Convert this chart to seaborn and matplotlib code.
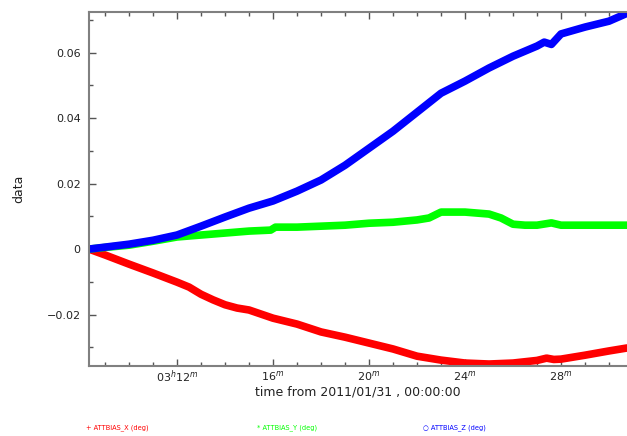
import numpy as np
import pandas as pd
import matplotlib
matplotlib.use("Agg")
import matplotlib.pyplot as plt
from matplotlib.ticker import MultipleLocator, FixedLocator, FixedFormatter
import seaborn as sns

# minutes after 03:00 on 2011/01/31
t_x = [8.33, 9, 10, 11, 12, 12.5, 13, 13.5, 14, 14.5, 15, 16, 17, 18, 19, 20, 21, 22, 23,
       24, 25, 26, 27, 27.4, 27.7, 28, 29, 30, 30.75]
att_x = [0.0, -0.0018, -0.0046, -0.0073, -0.0101, -0.0116, -0.0138, -0.0155, -0.0170, -0.0180,
         -0.0186, -0.0211, -0.0229, -0.0253, -0.0269, -0.0287, -0.0305, -0.0327, -0.0339,
         -0.0348, -0.0351, -0.0348, -0.0340, -0.0333, -0.0337, -0.0336, -0.0324, -0.0311,
         -0.0302]

t_y = [8.33, 9, 10, 11, 12, 13, 14, 15, 15.9, 16.1, 17, 18, 19, 20, 21, 22, 22.5, 23,
       24, 25, 25.5, 26, 26.5, 27, 27.6, 28, 29, 30, 30.75]
att_y = [0.0, 0.0005, 0.0012, 0.0024, 0.0037, 0.0043, 0.0049, 0.0055, 0.0058, 0.0067,
         0.0067, 0.0070, 0.0073, 0.0079, 0.0082, 0.0089, 0.0095, 0.0113, 0.0113, 0.0107,
         0.0095, 0.0076, 0.0073, 0.0073, 0.0080, 0.0073, 0.0073, 0.0073, 0.0073]

t_z = [8.33, 9, 10, 11, 12, 13, 14, 15, 16, 17, 18, 19, 20, 21, 22, 23, 24, 25, 26, 27,
       27.3, 27.6, 28, 29, 30, 30.75]
att_z = [0.0, 0.0006, 0.0015, 0.0027, 0.0043, 0.0070, 0.0098, 0.0125, 0.0147, 0.0177,
         0.0211, 0.0256, 0.0308, 0.0360, 0.0418, 0.0476, 0.0513, 0.0553, 0.0589, 0.0620,
         0.0632, 0.0625, 0.0657, 0.0678, 0.0696, 0.0720]

series_names = ["ATTBIAS_X (deg)", "ATTBIAS_Y (deg)", "ATTBIAS_Z (deg)"]
series_colors = ["#ff0000", "#00ff00", "#0000ff"]
legend_labels = ["+ ATTBIAS_X (deg)", "* ATTBIAS_Y (deg)", "\u25cb ATTBIAS_Z (deg)"]

xtick_pos = [12, 16, 20, 24, 28]
xtick_lab = ["03$^{h}$12$^{m}$", "16$^{m}$", "20$^{m}$", "24$^{m}$", "28$^{m}$"]
ytick_pos = [-0.02, 0, 0.02, 0.04, 0.06]
ytick_lab = ["\u22120.02", "0", "0.02", "0.04", "0.06"]

df = pd.concat([
    pd.DataFrame({"t": t_x, "v": att_x, "s": series_names[0]}),
    pd.DataFrame({"t": t_y, "v": att_y, "s": series_names[1]}),
    pd.DataFrame({"t": t_z, "v": att_z, "s": series_names[2]}),
])

sns.set_style("ticks")
plt.rcParams["font.family"] = ["DejaVu Sans"]

fig = plt.figure(figsize=(6.27, 4.36), dpi=100)
ax = fig.add_axes([89 / 627, 1 - 366 / 436, 1 - 89 / 627, (366 - 12) / 436])

sns.lineplot(data=df, x="t", y="v", hue="s", palette=dict(zip(series_names, series_colors)),
             linewidth=5.5, ax=ax, legend=False, estimator=None, sort=False)

ax.set_xlim(8.33, 30.75)
ax.set_ylim(-0.0357, 0.0724)
ax.xaxis.set_major_locator(FixedLocator(xtick_pos))
ax.xaxis.set_major_formatter(FixedFormatter(xtick_lab))
ax.xaxis.set_minor_locator(MultipleLocator(1))
ax.yaxis.set_major_locator(FixedLocator(ytick_pos))
ax.yaxis.set_major_formatter(FixedFormatter(ytick_lab))
ax.yaxis.set_minor_locator(MultipleLocator(0.01))

ax.tick_params(which="both", direction="in", top=True, right=False, color="#555555",
               labelsize=8, labelcolor="#222222", width=1)
ax.tick_params(which="major", length=5)
ax.tick_params(axis="y", which="major", pad=6)
ax.tick_params(axis="x", which="major", pad=2)
ax.tick_params(which="minor", length=3)
for side in ["left", "bottom", "top"]:
    ax.spines[side].set_color("#808080")
    ax.spines[side].set_linewidth(1.5)
ax.spines["right"].set_visible(False)

ax.set_xlabel("time from 2011/01/31 , 00:00:00", fontsize=9, color="#222222", labelpad=0)
ax.set_ylabel("data", fontsize=9, color="#222222")
ax.yaxis.set_label_coords((25 - 89) / 538, 0.5)

for lab, col, xp in zip(legend_labels, series_colors, [86, 257, 423]):
    fig.text(xp / 627, 1 - 428 / 436, lab, color=col, fontsize=4.8, va="center", ha="left")

fig.savefig("out.png", dpi=100)
